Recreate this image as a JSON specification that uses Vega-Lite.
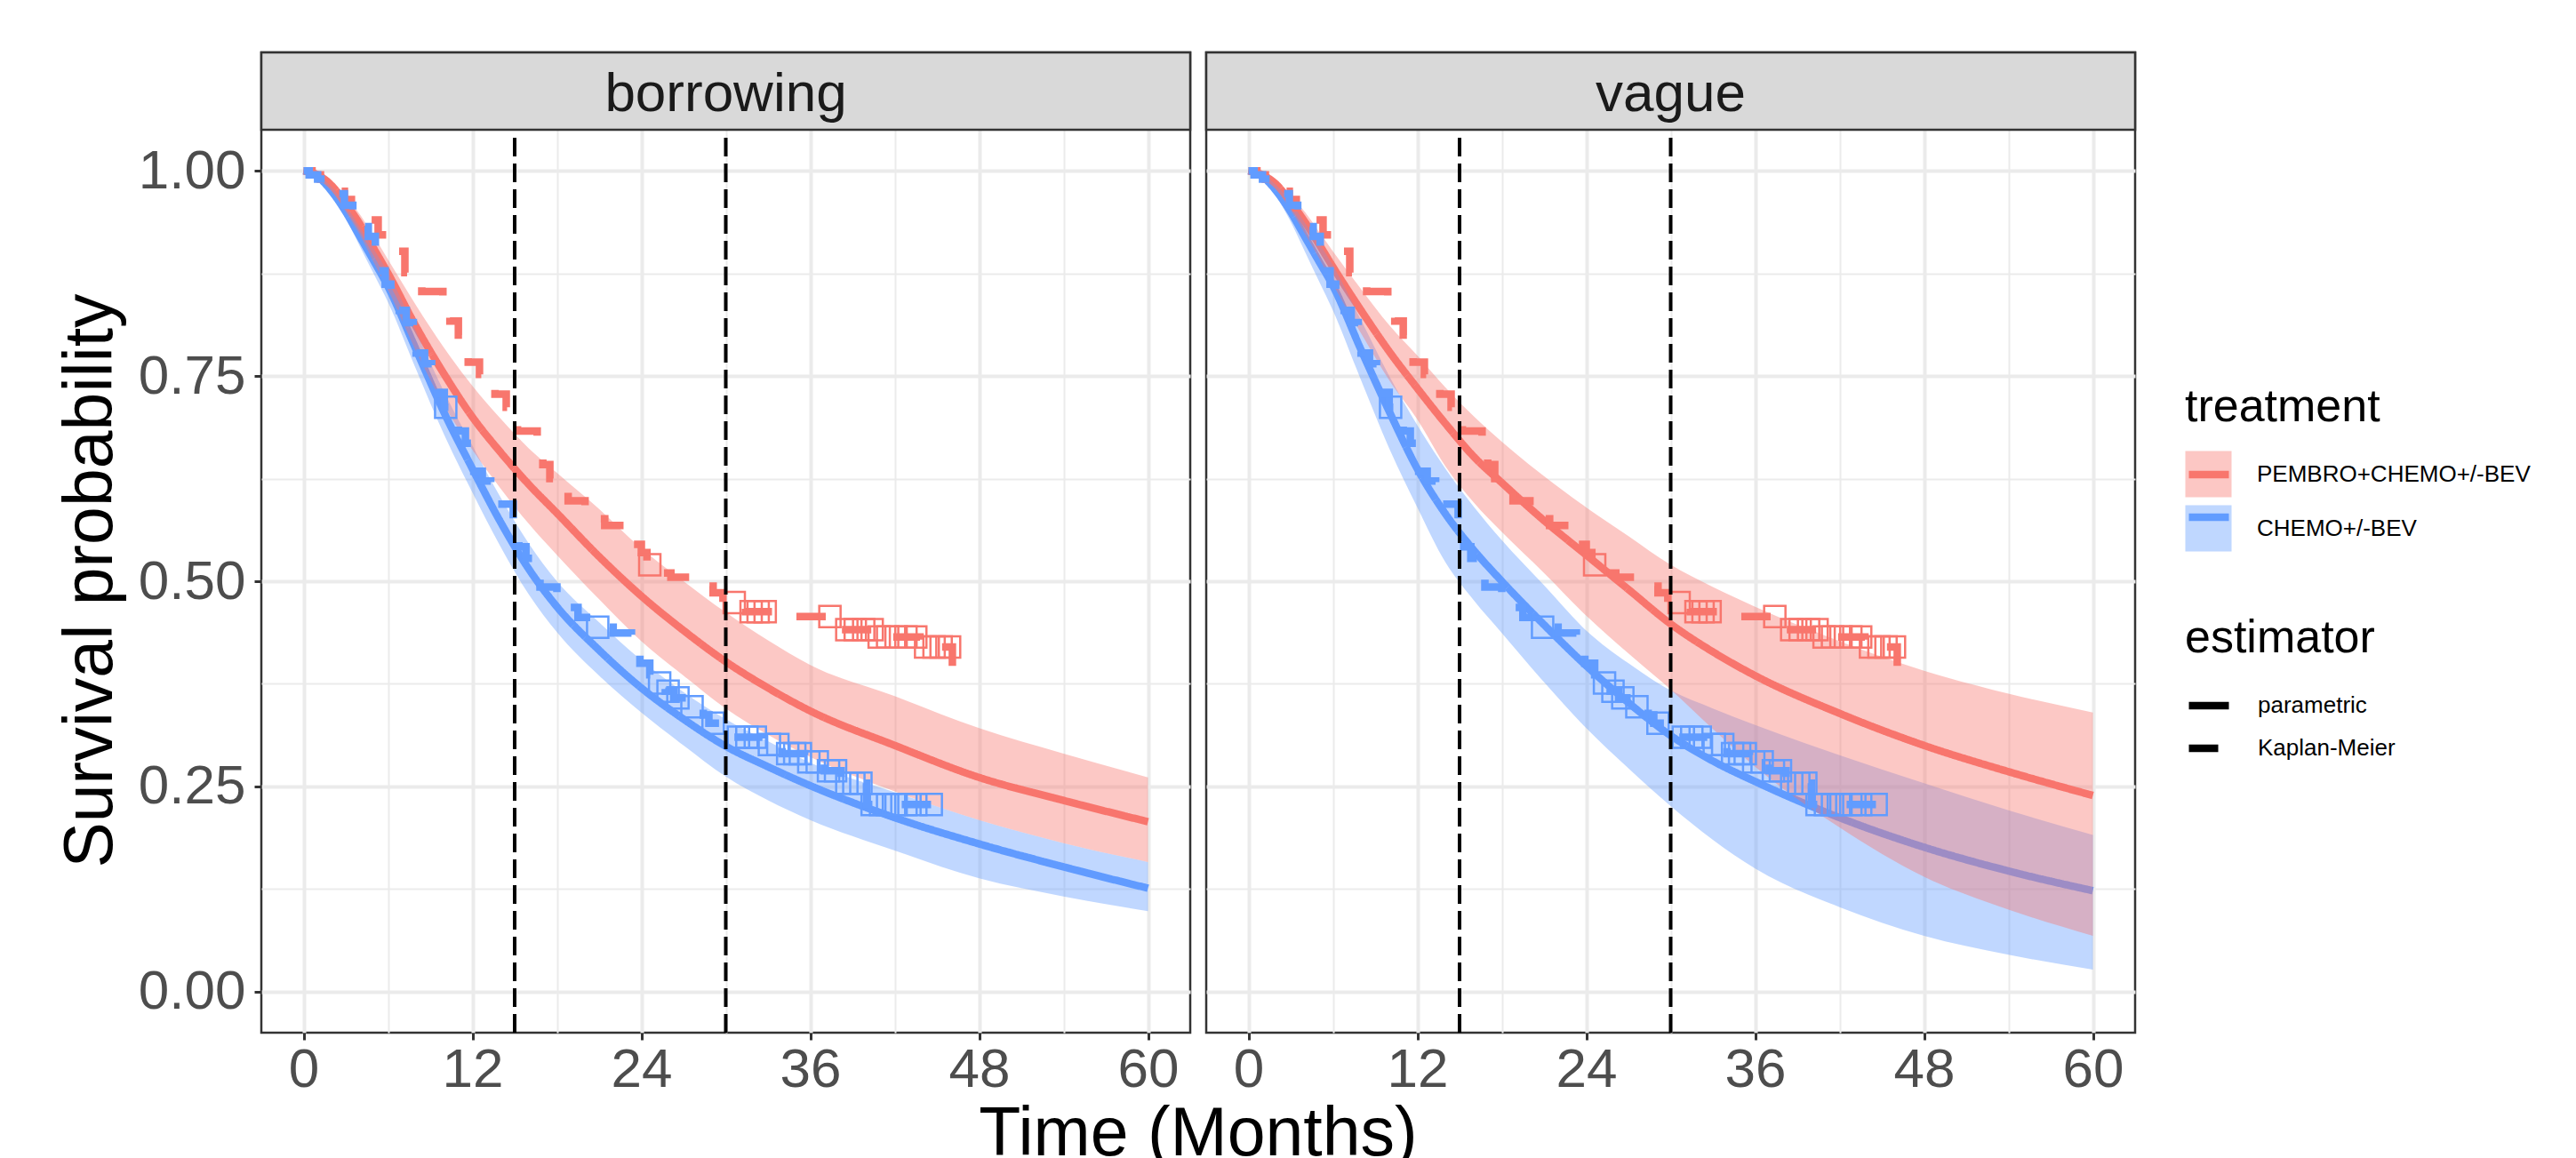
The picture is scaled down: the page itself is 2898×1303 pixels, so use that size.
{
"$schema": "https://vega.github.io/schema/vega-lite/v6.json",
"background": "white",
"padding": {"left": 62, "top": 56, "right": 0, "bottom": 0},
"datasets": {
"band": [
{"panel":"borrowing","treatment":"CHEMO+/-BEV","t":0,"lo":1,"hi":1},
{"panel":"borrowing","treatment":"CHEMO+/-BEV","t":1,"lo":0.991,"hi":0.995},
{"panel":"borrowing","treatment":"CHEMO+/-BEV","t":2,"lo":0.970,"hi":0.980},
{"panel":"borrowing","treatment":"CHEMO+/-BEV","t":3,"lo":0.942,"hi":0.958},
{"panel":"borrowing","treatment":"CHEMO+/-BEV","t":4,"lo":0.908,"hi":0.931},
{"panel":"borrowing","treatment":"CHEMO+/-BEV","t":5,"lo":0.874,"hi":0.904},
{"panel":"borrowing","treatment":"CHEMO+/-BEV","t":6,"lo":0.840,"hi":0.876},
{"panel":"borrowing","treatment":"CHEMO+/-BEV","t":8,"lo":0.758,"hi":0.804},
{"panel":"borrowing","treatment":"CHEMO+/-BEV","t":10,"lo":0.678,"hi":0.730},
{"panel":"borrowing","treatment":"CHEMO+/-BEV","t":12,"lo":0.608,"hi":0.665},
{"panel":"borrowing","treatment":"CHEMO+/-BEV","t":14,"lo":0.542,"hi":0.602},
{"panel":"borrowing","treatment":"CHEMO+/-BEV","t":16,"lo":0.484,"hi":0.546},
{"panel":"borrowing","treatment":"CHEMO+/-BEV","t":18,"lo":0.438,"hi":0.500},
{"panel":"borrowing","treatment":"CHEMO+/-BEV","t":21,"lo":0.385,"hi":0.450},
{"panel":"borrowing","treatment":"CHEMO+/-BEV","t":24,"lo":0.340,"hi":0.404},
{"panel":"borrowing","treatment":"CHEMO+/-BEV","t":27,"lo":0.300,"hi":0.365},
{"panel":"borrowing","treatment":"CHEMO+/-BEV","t":30,"lo":0.262,"hi":0.332},
{"panel":"borrowing","treatment":"CHEMO+/-BEV","t":33,"lo":0.233,"hi":0.305},
{"panel":"borrowing","treatment":"CHEMO+/-BEV","t":36,"lo":0.209,"hi":0.279},
{"panel":"borrowing","treatment":"CHEMO+/-BEV","t":42,"lo":0.172,"hi":0.243},
{"panel":"borrowing","treatment":"CHEMO+/-BEV","t":48,"lo":0.138,"hi":0.209},
{"panel":"borrowing","treatment":"CHEMO+/-BEV","t":54,"lo":0.116,"hi":0.181},
{"panel":"borrowing","treatment":"CHEMO+/-BEV","t":60,"lo":0.098,"hi":0.158},
{"panel":"borrowing","treatment":"PEMBRO+CHEMO+/-BEV","t":0,"lo":1,"hi":1},
{"panel":"borrowing","treatment":"PEMBRO+CHEMO+/-BEV","t":1,"lo":0.993,"hi":0.997},
{"panel":"borrowing","treatment":"PEMBRO+CHEMO+/-BEV","t":2,"lo":0.976,"hi":0.987},
{"panel":"borrowing","treatment":"PEMBRO+CHEMO+/-BEV","t":3,"lo":0.950,"hi":0.968},
{"panel":"borrowing","treatment":"PEMBRO+CHEMO+/-BEV","t":4,"lo":0.922,"hi":0.947},
{"panel":"borrowing","treatment":"PEMBRO+CHEMO+/-BEV","t":5,"lo":0.888,"hi":0.920},
{"panel":"borrowing","treatment":"PEMBRO+CHEMO+/-BEV","t":6,"lo":0.855,"hi":0.892},
{"panel":"borrowing","treatment":"PEMBRO+CHEMO+/-BEV","t":8,"lo":0.780,"hi":0.836},
{"panel":"borrowing","treatment":"PEMBRO+CHEMO+/-BEV","t":10,"lo":0.714,"hi":0.784},
{"panel":"borrowing","treatment":"PEMBRO+CHEMO+/-BEV","t":12,"lo":0.660,"hi":0.738},
{"panel":"borrowing","treatment":"PEMBRO+CHEMO+/-BEV","t":14,"lo":0.613,"hi":0.698},
{"panel":"borrowing","treatment":"PEMBRO+CHEMO+/-BEV","t":16,"lo":0.570,"hi":0.662},
{"panel":"borrowing","treatment":"PEMBRO+CHEMO+/-BEV","t":18,"lo":0.532,"hi":0.632},
{"panel":"borrowing","treatment":"PEMBRO+CHEMO+/-BEV","t":21,"lo":0.478,"hi":0.588},
{"panel":"borrowing","treatment":"PEMBRO+CHEMO+/-BEV","t":24,"lo":0.427,"hi":0.540},
{"panel":"borrowing","treatment":"PEMBRO+CHEMO+/-BEV","t":27,"lo":0.385,"hi":0.500},
{"panel":"borrowing","treatment":"PEMBRO+CHEMO+/-BEV","t":30,"lo":0.345,"hi":0.462},
{"panel":"borrowing","treatment":"PEMBRO+CHEMO+/-BEV","t":33,"lo":0.313,"hi":0.428},
{"panel":"borrowing","treatment":"PEMBRO+CHEMO+/-BEV","t":36,"lo":0.286,"hi":0.398},
{"panel":"borrowing","treatment":"PEMBRO+CHEMO+/-BEV","t":42,"lo":0.244,"hi":0.360},
{"panel":"borrowing","treatment":"PEMBRO+CHEMO+/-BEV","t":48,"lo":0.209,"hi":0.321},
{"panel":"borrowing","treatment":"PEMBRO+CHEMO+/-BEV","t":54,"lo":0.181,"hi":0.290},
{"panel":"borrowing","treatment":"PEMBRO+CHEMO+/-BEV","t":60,"lo":0.158,"hi":0.261},
{"panel":"vague","treatment":"CHEMO+/-BEV","t":0,"lo":1,"hi":1},
{"panel":"vague","treatment":"CHEMO+/-BEV","t":1,"lo":0.990,"hi":0.996},
{"panel":"vague","treatment":"CHEMO+/-BEV","t":2,"lo":0.968,"hi":0.982},
{"panel":"vague","treatment":"CHEMO+/-BEV","t":3,"lo":0.938,"hi":0.962},
{"panel":"vague","treatment":"CHEMO+/-BEV","t":4,"lo":0.902,"hi":0.937},
{"panel":"vague","treatment":"CHEMO+/-BEV","t":5,"lo":0.866,"hi":0.912},
{"panel":"vague","treatment":"CHEMO+/-BEV","t":6,"lo":0.830,"hi":0.885},
{"panel":"vague","treatment":"CHEMO+/-BEV","t":8,"lo":0.745,"hi":0.818},
{"panel":"vague","treatment":"CHEMO+/-BEV","t":10,"lo":0.662,"hi":0.750},
{"panel":"vague","treatment":"CHEMO+/-BEV","t":12,"lo":0.590,"hi":0.690},
{"panel":"vague","treatment":"CHEMO+/-BEV","t":14,"lo":0.523,"hi":0.637},
{"panel":"vague","treatment":"CHEMO+/-BEV","t":16,"lo":0.477,"hi":0.591},
{"panel":"vague","treatment":"CHEMO+/-BEV","t":18,"lo":0.437,"hi":0.550},
{"panel":"vague","treatment":"CHEMO+/-BEV","t":21,"lo":0.377,"hi":0.495},
{"panel":"vague","treatment":"CHEMO+/-BEV","t":24,"lo":0.321,"hi":0.440},
{"panel":"vague","treatment":"CHEMO+/-BEV","t":27,"lo":0.272,"hi":0.400},
{"panel":"vague","treatment":"CHEMO+/-BEV","t":30,"lo":0.226,"hi":0.367},
{"panel":"vague","treatment":"CHEMO+/-BEV","t":33,"lo":0.185,"hi":0.345},
{"panel":"vague","treatment":"CHEMO+/-BEV","t":36,"lo":0.150,"hi":0.325},
{"panel":"vague","treatment":"CHEMO+/-BEV","t":42,"lo":0.103,"hi":0.288},
{"panel":"vague","treatment":"CHEMO+/-BEV","t":48,"lo":0.068,"hi":0.254},
{"panel":"vague","treatment":"CHEMO+/-BEV","t":54,"lo":0.045,"hi":0.221},
{"panel":"vague","treatment":"CHEMO+/-BEV","t":60,"lo":0.027,"hi":0.191},
{"panel":"vague","treatment":"PEMBRO+CHEMO+/-BEV","t":0,"lo":1,"hi":1},
{"panel":"vague","treatment":"PEMBRO+CHEMO+/-BEV","t":1,"lo":0.993,"hi":0.997},
{"panel":"vague","treatment":"PEMBRO+CHEMO+/-BEV","t":2,"lo":0.977,"hi":0.988},
{"panel":"vague","treatment":"PEMBRO+CHEMO+/-BEV","t":3,"lo":0.952,"hi":0.970},
{"panel":"vague","treatment":"PEMBRO+CHEMO+/-BEV","t":4,"lo":0.924,"hi":0.950},
{"panel":"vague","treatment":"PEMBRO+CHEMO+/-BEV","t":5,"lo":0.894,"hi":0.926},
{"panel":"vague","treatment":"PEMBRO+CHEMO+/-BEV","t":6,"lo":0.862,"hi":0.902},
{"panel":"vague","treatment":"PEMBRO+CHEMO+/-BEV","t":8,"lo":0.802,"hi":0.856},
{"panel":"vague","treatment":"PEMBRO+CHEMO+/-BEV","t":10,"lo":0.745,"hi":0.812},
{"panel":"vague","treatment":"PEMBRO+CHEMO+/-BEV","t":12,"lo":0.697,"hi":0.775},
{"panel":"vague","treatment":"PEMBRO+CHEMO+/-BEV","t":14,"lo":0.640,"hi":0.736},
{"panel":"vague","treatment":"PEMBRO+CHEMO+/-BEV","t":16,"lo":0.596,"hi":0.701},
{"panel":"vague","treatment":"PEMBRO+CHEMO+/-BEV","t":18,"lo":0.560,"hi":0.670},
{"panel":"vague","treatment":"PEMBRO+CHEMO+/-BEV","t":21,"lo":0.510,"hi":0.628},
{"panel":"vague","treatment":"PEMBRO+CHEMO+/-BEV","t":24,"lo":0.458,"hi":0.590},
{"panel":"vague","treatment":"PEMBRO+CHEMO+/-BEV","t":27,"lo":0.412,"hi":0.555},
{"panel":"vague","treatment":"PEMBRO+CHEMO+/-BEV","t":30,"lo":0.368,"hi":0.520},
{"panel":"vague","treatment":"PEMBRO+CHEMO+/-BEV","t":33,"lo":0.320,"hi":0.493},
{"panel":"vague","treatment":"PEMBRO+CHEMO+/-BEV","t":36,"lo":0.274,"hi":0.469},
{"panel":"vague","treatment":"PEMBRO+CHEMO+/-BEV","t":42,"lo":0.200,"hi":0.427},
{"panel":"vague","treatment":"PEMBRO+CHEMO+/-BEV","t":48,"lo":0.140,"hi":0.391},
{"panel":"vague","treatment":"PEMBRO+CHEMO+/-BEV","t":54,"lo":0.100,"hi":0.363},
{"panel":"vague","treatment":"PEMBRO+CHEMO+/-BEV","t":60,"lo":0.068,"hi":0.340}
],
"curve": [
{"panel":"borrowing","treatment":"CHEMO+/-BEV","t":0,"est":1},
{"panel":"borrowing","treatment":"CHEMO+/-BEV","t":1,"est":0.993},
{"panel":"borrowing","treatment":"CHEMO+/-BEV","t":2,"est":0.975},
{"panel":"borrowing","treatment":"CHEMO+/-BEV","t":3,"est":0.950},
{"panel":"borrowing","treatment":"CHEMO+/-BEV","t":4,"est":0.920},
{"panel":"borrowing","treatment":"CHEMO+/-BEV","t":5,"est":0.890},
{"panel":"borrowing","treatment":"CHEMO+/-BEV","t":6,"est":0.859},
{"panel":"borrowing","treatment":"CHEMO+/-BEV","t":8,"est":0.782},
{"panel":"borrowing","treatment":"CHEMO+/-BEV","t":10,"est":0.705},
{"panel":"borrowing","treatment":"CHEMO+/-BEV","t":12,"est":0.637},
{"panel":"borrowing","treatment":"CHEMO+/-BEV","t":14,"est":0.572},
{"panel":"borrowing","treatment":"CHEMO+/-BEV","t":16,"est":0.515},
{"panel":"borrowing","treatment":"CHEMO+/-BEV","t":18,"est":0.469},
{"panel":"borrowing","treatment":"CHEMO+/-BEV","t":21,"est":0.416},
{"panel":"borrowing","treatment":"CHEMO+/-BEV","t":24,"est":0.370},
{"panel":"borrowing","treatment":"CHEMO+/-BEV","t":27,"est":0.332},
{"panel":"borrowing","treatment":"CHEMO+/-BEV","t":30,"est":0.299},
{"panel":"borrowing","treatment":"CHEMO+/-BEV","t":33,"est":0.274},
{"panel":"borrowing","treatment":"CHEMO+/-BEV","t":36,"est":0.251},
{"panel":"borrowing","treatment":"CHEMO+/-BEV","t":42,"est":0.212},
{"panel":"borrowing","treatment":"CHEMO+/-BEV","t":48,"est":0.180},
{"panel":"borrowing","treatment":"CHEMO+/-BEV","t":54,"est":0.152},
{"panel":"borrowing","treatment":"CHEMO+/-BEV","t":60,"est":0.126},
{"panel":"borrowing","treatment":"PEMBRO+CHEMO+/-BEV","t":0,"est":1},
{"panel":"borrowing","treatment":"PEMBRO+CHEMO+/-BEV","t":1,"est":0.995},
{"panel":"borrowing","treatment":"PEMBRO+CHEMO+/-BEV","t":2,"est":0.982},
{"panel":"borrowing","treatment":"PEMBRO+CHEMO+/-BEV","t":3,"est":0.960},
{"panel":"borrowing","treatment":"PEMBRO+CHEMO+/-BEV","t":4,"est":0.935},
{"panel":"borrowing","treatment":"PEMBRO+CHEMO+/-BEV","t":5,"est":0.905},
{"panel":"borrowing","treatment":"PEMBRO+CHEMO+/-BEV","t":6,"est":0.875},
{"panel":"borrowing","treatment":"PEMBRO+CHEMO+/-BEV","t":8,"est":0.810},
{"panel":"borrowing","treatment":"PEMBRO+CHEMO+/-BEV","t":10,"est":0.752},
{"panel":"borrowing","treatment":"PEMBRO+CHEMO+/-BEV","t":12,"est":0.700},
{"panel":"borrowing","treatment":"PEMBRO+CHEMO+/-BEV","t":14,"est":0.657},
{"panel":"borrowing","treatment":"PEMBRO+CHEMO+/-BEV","t":16,"est":0.618},
{"panel":"borrowing","treatment":"PEMBRO+CHEMO+/-BEV","t":18,"est":0.583},
{"panel":"borrowing","treatment":"PEMBRO+CHEMO+/-BEV","t":21,"est":0.530},
{"panel":"borrowing","treatment":"PEMBRO+CHEMO+/-BEV","t":24,"est":0.482},
{"panel":"borrowing","treatment":"PEMBRO+CHEMO+/-BEV","t":27,"est":0.440},
{"panel":"borrowing","treatment":"PEMBRO+CHEMO+/-BEV","t":30,"est":0.402},
{"panel":"borrowing","treatment":"PEMBRO+CHEMO+/-BEV","t":33,"est":0.370},
{"panel":"borrowing","treatment":"PEMBRO+CHEMO+/-BEV","t":36,"est":0.342},
{"panel":"borrowing","treatment":"PEMBRO+CHEMO+/-BEV","t":42,"est":0.300},
{"panel":"borrowing","treatment":"PEMBRO+CHEMO+/-BEV","t":48,"est":0.261},
{"panel":"borrowing","treatment":"PEMBRO+CHEMO+/-BEV","t":54,"est":0.233},
{"panel":"borrowing","treatment":"PEMBRO+CHEMO+/-BEV","t":60,"est":0.207},
{"panel":"vague","treatment":"CHEMO+/-BEV","t":0,"est":1},
{"panel":"vague","treatment":"CHEMO+/-BEV","t":1,"est":0.993},
{"panel":"vague","treatment":"CHEMO+/-BEV","t":2,"est":0.975},
{"panel":"vague","treatment":"CHEMO+/-BEV","t":3,"est":0.950},
{"panel":"vague","treatment":"CHEMO+/-BEV","t":4,"est":0.920},
{"panel":"vague","treatment":"CHEMO+/-BEV","t":5,"est":0.890},
{"panel":"vague","treatment":"CHEMO+/-BEV","t":6,"est":0.860},
{"panel":"vague","treatment":"CHEMO+/-BEV","t":8,"est":0.782},
{"panel":"vague","treatment":"CHEMO+/-BEV","t":10,"est":0.707},
{"panel":"vague","treatment":"CHEMO+/-BEV","t":12,"est":0.637},
{"panel":"vague","treatment":"CHEMO+/-BEV","t":14,"est":0.582},
{"panel":"vague","treatment":"CHEMO+/-BEV","t":16,"est":0.538},
{"panel":"vague","treatment":"CHEMO+/-BEV","t":18,"est":0.500},
{"panel":"vague","treatment":"CHEMO+/-BEV","t":21,"est":0.447},
{"panel":"vague","treatment":"CHEMO+/-BEV","t":24,"est":0.397},
{"panel":"vague","treatment":"CHEMO+/-BEV","t":27,"est":0.352},
{"panel":"vague","treatment":"CHEMO+/-BEV","t":30,"est":0.312},
{"panel":"vague","treatment":"CHEMO+/-BEV","t":33,"est":0.281},
{"panel":"vague","treatment":"CHEMO+/-BEV","t":36,"est":0.256},
{"panel":"vague","treatment":"CHEMO+/-BEV","t":42,"est":0.212},
{"panel":"vague","treatment":"CHEMO+/-BEV","t":48,"est":0.176},
{"panel":"vague","treatment":"CHEMO+/-BEV","t":54,"est":0.147},
{"panel":"vague","treatment":"CHEMO+/-BEV","t":60,"est":0.123},
{"panel":"vague","treatment":"PEMBRO+CHEMO+/-BEV","t":0,"est":1},
{"panel":"vague","treatment":"PEMBRO+CHEMO+/-BEV","t":1,"est":0.995},
{"panel":"vague","treatment":"PEMBRO+CHEMO+/-BEV","t":2,"est":0.983},
{"panel":"vague","treatment":"PEMBRO+CHEMO+/-BEV","t":3,"est":0.962},
{"panel":"vague","treatment":"PEMBRO+CHEMO+/-BEV","t":4,"est":0.938},
{"panel":"vague","treatment":"PEMBRO+CHEMO+/-BEV","t":5,"est":0.911},
{"panel":"vague","treatment":"PEMBRO+CHEMO+/-BEV","t":6,"est":0.883},
{"panel":"vague","treatment":"PEMBRO+CHEMO+/-BEV","t":8,"est":0.830},
{"panel":"vague","treatment":"PEMBRO+CHEMO+/-BEV","t":10,"est":0.780},
{"panel":"vague","treatment":"PEMBRO+CHEMO+/-BEV","t":12,"est":0.735},
{"panel":"vague","treatment":"PEMBRO+CHEMO+/-BEV","t":14,"est":0.692},
{"panel":"vague","treatment":"PEMBRO+CHEMO+/-BEV","t":16,"est":0.652},
{"panel":"vague","treatment":"PEMBRO+CHEMO+/-BEV","t":18,"est":0.620},
{"panel":"vague","treatment":"PEMBRO+CHEMO+/-BEV","t":21,"est":0.574},
{"panel":"vague","treatment":"PEMBRO+CHEMO+/-BEV","t":24,"est":0.532},
{"panel":"vague","treatment":"PEMBRO+CHEMO+/-BEV","t":27,"est":0.490},
{"panel":"vague","treatment":"PEMBRO+CHEMO+/-BEV","t":30,"est":0.448},
{"panel":"vague","treatment":"PEMBRO+CHEMO+/-BEV","t":33,"est":0.414},
{"panel":"vague","treatment":"PEMBRO+CHEMO+/-BEV","t":36,"est":0.385},
{"panel":"vague","treatment":"PEMBRO+CHEMO+/-BEV","t":42,"est":0.339},
{"panel":"vague","treatment":"PEMBRO+CHEMO+/-BEV","t":48,"est":0.300},
{"panel":"vague","treatment":"PEMBRO+CHEMO+/-BEV","t":54,"est":0.268},
{"panel":"vague","treatment":"PEMBRO+CHEMO+/-BEV","t":60,"est":0.239}
],
"km": [
{"treatment":"PEMBRO+CHEMO+/-BEV","t":0,"S":1},
{"treatment":"PEMBRO+CHEMO+/-BEV","t":0.6,"S":0.995},
{"treatment":"PEMBRO+CHEMO+/-BEV","t":1.2,"S":0.99},
{"treatment":"PEMBRO+CHEMO+/-BEV","t":1.8,"S":0.985},
{"treatment":"PEMBRO+CHEMO+/-BEV","t":2.4,"S":0.975},
{"treatment":"PEMBRO+CHEMO+/-BEV","t":2.9,"S":0.965},
{"treatment":"PEMBRO+CHEMO+/-BEV","t":3.4,"S":0.955},
{"treatment":"PEMBRO+CHEMO+/-BEV","t":4.0,"S":0.948},
{"treatment":"PEMBRO+CHEMO+/-BEV","t":4.6,"S":0.94},
{"treatment":"PEMBRO+CHEMO+/-BEV","t":5.3,"S":0.922},
{"treatment":"PEMBRO+CHEMO+/-BEV","t":5.9,"S":0.912},
{"treatment":"PEMBRO+CHEMO+/-BEV","t":6.5,"S":0.902},
{"treatment":"PEMBRO+CHEMO+/-BEV","t":7.2,"S":0.876},
{"treatment":"PEMBRO+CHEMO+/-BEV","t":7.8,"S":0.862},
{"treatment":"PEMBRO+CHEMO+/-BEV","t":8.4,"S":0.853},
{"treatment":"PEMBRO+CHEMO+/-BEV","t":9.9,"S":0.84},
{"treatment":"PEMBRO+CHEMO+/-BEV","t":10.4,"S":0.817},
{"treatment":"PEMBRO+CHEMO+/-BEV","t":11.0,"S":0.80},
{"treatment":"PEMBRO+CHEMO+/-BEV","t":11.7,"S":0.767},
{"treatment":"PEMBRO+CHEMO+/-BEV","t":12.5,"S":0.752},
{"treatment":"PEMBRO+CHEMO+/-BEV","t":13.1,"S":0.74},
{"treatment":"PEMBRO+CHEMO+/-BEV","t":13.6,"S":0.728},
{"treatment":"PEMBRO+CHEMO+/-BEV","t":14.4,"S":0.712},
{"treatment":"PEMBRO+CHEMO+/-BEV","t":14.9,"S":0.698},
{"treatment":"PEMBRO+CHEMO+/-BEV","t":15.2,"S":0.683},
{"treatment":"PEMBRO+CHEMO+/-BEV","t":16.6,"S":0.668},
{"treatment":"PEMBRO+CHEMO+/-BEV","t":17.0,"S":0.642},
{"treatment":"PEMBRO+CHEMO+/-BEV","t":17.5,"S":0.625},
{"treatment":"PEMBRO+CHEMO+/-BEV","t":18.1,"S":0.61},
{"treatment":"PEMBRO+CHEMO+/-BEV","t":18.8,"S":0.598},
{"treatment":"PEMBRO+CHEMO+/-BEV","t":20.0,"S":0.585},
{"treatment":"PEMBRO+CHEMO+/-BEV","t":20.8,"S":0.576},
{"treatment":"PEMBRO+CHEMO+/-BEV","t":21.4,"S":0.568},
{"treatment":"PEMBRO+CHEMO+/-BEV","t":22.8,"S":0.558},
{"treatment":"PEMBRO+CHEMO+/-BEV","t":23.4,"S":0.545},
{"treatment":"PEMBRO+CHEMO+/-BEV","t":24.0,"S":0.535},
{"treatment":"PEMBRO+CHEMO+/-BEV","t":24.4,"S":0.52},
{"treatment":"PEMBRO+CHEMO+/-BEV","t":25.2,"S":0.51},
{"treatment":"PEMBRO+CHEMO+/-BEV","t":26.1,"S":0.505},
{"treatment":"PEMBRO+CHEMO+/-BEV","t":27.5,"S":0.50},
{"treatment":"PEMBRO+CHEMO+/-BEV","t":28.4,"S":0.494},
{"treatment":"PEMBRO+CHEMO+/-BEV","t":29.1,"S":0.486},
{"treatment":"PEMBRO+CHEMO+/-BEV","t":29.8,"S":0.474},
{"treatment":"PEMBRO+CHEMO+/-BEV","t":31.4,"S":0.463},
{"treatment":"PEMBRO+CHEMO+/-BEV","t":34.5,"S":0.457},
{"treatment":"PEMBRO+CHEMO+/-BEV","t":38.2,"S":0.441},
{"treatment":"PEMBRO+CHEMO+/-BEV","t":40.6,"S":0.432},
{"treatment":"PEMBRO+CHEMO+/-BEV","t":43.8,"S":0.42},
{"treatment":"PEMBRO+CHEMO+/-BEV","t":46.1,"S":0.384},
{"treatment":"CHEMO+/-BEV","t":0,"S":1},
{"treatment":"CHEMO+/-BEV","t":0.4,"S":0.995},
{"treatment":"CHEMO+/-BEV","t":1.0,"S":0.99},
{"treatment":"CHEMO+/-BEV","t":1.8,"S":0.983},
{"treatment":"CHEMO+/-BEV","t":2.4,"S":0.972},
{"treatment":"CHEMO+/-BEV","t":2.9,"S":0.958},
{"treatment":"CHEMO+/-BEV","t":3.5,"S":0.948},
{"treatment":"CHEMO+/-BEV","t":4.1,"S":0.932},
{"treatment":"CHEMO+/-BEV","t":4.6,"S":0.92},
{"treatment":"CHEMO+/-BEV","t":5.1,"S":0.905},
{"treatment":"CHEMO+/-BEV","t":5.3,"S":0.878},
{"treatment":"CHEMO+/-BEV","t":5.8,"S":0.862},
{"treatment":"CHEMO+/-BEV","t":6.2,"S":0.85},
{"treatment":"CHEMO+/-BEV","t":6.8,"S":0.83},
{"treatment":"CHEMO+/-BEV","t":7.3,"S":0.815},
{"treatment":"CHEMO+/-BEV","t":7.8,"S":0.80},
{"treatment":"CHEMO+/-BEV","t":8.0,"S":0.778},
{"treatment":"CHEMO+/-BEV","t":8.6,"S":0.765},
{"treatment":"CHEMO+/-BEV","t":9.1,"S":0.752},
{"treatment":"CHEMO+/-BEV","t":9.5,"S":0.73},
{"treatment":"CHEMO+/-BEV","t":10.0,"S":0.712},
{"treatment":"CHEMO+/-BEV","t":10.6,"S":0.698},
{"treatment":"CHEMO+/-BEV","t":11.0,"S":0.683},
{"treatment":"CHEMO+/-BEV","t":11.5,"S":0.668},
{"treatment":"CHEMO+/-BEV","t":11.9,"S":0.655},
{"treatment":"CHEMO+/-BEV","t":12.1,"S":0.634},
{"treatment":"CHEMO+/-BEV","t":12.7,"S":0.622},
{"treatment":"CHEMO+/-BEV","t":13.3,"S":0.61},
{"treatment":"CHEMO+/-BEV","t":13.8,"S":0.60},
{"treatment":"CHEMO+/-BEV","t":14.1,"S":0.594},
{"treatment":"CHEMO+/-BEV","t":14.9,"S":0.565},
{"treatment":"CHEMO+/-BEV","t":15.3,"S":0.542},
{"treatment":"CHEMO+/-BEV","t":15.8,"S":0.528},
{"treatment":"CHEMO+/-BEV","t":16.3,"S":0.514},
{"treatment":"CHEMO+/-BEV","t":16.8,"S":0.493},
{"treatment":"CHEMO+/-BEV","t":18.0,"S":0.48},
{"treatment":"CHEMO+/-BEV","t":18.8,"S":0.468},
{"treatment":"CHEMO+/-BEV","t":19.5,"S":0.456},
{"treatment":"CHEMO+/-BEV","t":20.1,"S":0.444},
{"treatment":"CHEMO+/-BEV","t":22.0,"S":0.437},
{"treatment":"CHEMO+/-BEV","t":23.3,"S":0.42},
{"treatment":"CHEMO+/-BEV","t":23.9,"S":0.40},
{"treatment":"CHEMO+/-BEV","t":24.6,"S":0.386},
{"treatment":"CHEMO+/-BEV","t":25.1,"S":0.376},
{"treatment":"CHEMO+/-BEV","t":25.7,"S":0.366},
{"treatment":"CHEMO+/-BEV","t":26.3,"S":0.358},
{"treatment":"CHEMO+/-BEV","t":27.2,"S":0.347},
{"treatment":"CHEMO+/-BEV","t":28.4,"S":0.337},
{"treatment":"CHEMO+/-BEV","t":28.8,"S":0.327},
{"treatment":"CHEMO+/-BEV","t":30.4,"S":0.31},
{"treatment":"CHEMO+/-BEV","t":32.6,"S":0.301},
{"treatment":"CHEMO+/-BEV","t":34.0,"S":0.29},
{"treatment":"CHEMO+/-BEV","t":35.6,"S":0.28},
{"treatment":"CHEMO+/-BEV","t":37.0,"S":0.269},
{"treatment":"CHEMO+/-BEV","t":38.2,"S":0.254},
{"treatment":"CHEMO+/-BEV","t":40.0,"S":0.228},
{"treatment":"CHEMO+/-BEV","t":45.3,"S":0.228}
],
"cens": [
{"treatment":"PEMBRO+CHEMO+/-BEV","t":24.6,"S":0.52},
{"treatment":"PEMBRO+CHEMO+/-BEV","t":30.6,"S":0.474},
{"treatment":"PEMBRO+CHEMO+/-BEV","t":31.8,"S":0.463},
{"treatment":"PEMBRO+CHEMO+/-BEV","t":32.3,"S":0.463},
{"treatment":"PEMBRO+CHEMO+/-BEV","t":32.8,"S":0.463},
{"treatment":"PEMBRO+CHEMO+/-BEV","t":37.4,"S":0.457},
{"treatment":"PEMBRO+CHEMO+/-BEV","t":38.6,"S":0.441},
{"treatment":"PEMBRO+CHEMO+/-BEV","t":39.2,"S":0.441},
{"treatment":"PEMBRO+CHEMO+/-BEV","t":39.8,"S":0.441},
{"treatment":"PEMBRO+CHEMO+/-BEV","t":40.4,"S":0.441},
{"treatment":"PEMBRO+CHEMO+/-BEV","t":40.9,"S":0.432},
{"treatment":"PEMBRO+CHEMO+/-BEV","t":41.5,"S":0.432},
{"treatment":"PEMBRO+CHEMO+/-BEV","t":42.1,"S":0.432},
{"treatment":"PEMBRO+CHEMO+/-BEV","t":42.8,"S":0.432},
{"treatment":"PEMBRO+CHEMO+/-BEV","t":43.5,"S":0.432},
{"treatment":"PEMBRO+CHEMO+/-BEV","t":44.2,"S":0.42},
{"treatment":"PEMBRO+CHEMO+/-BEV","t":44.8,"S":0.42},
{"treatment":"PEMBRO+CHEMO+/-BEV","t":45.3,"S":0.42},
{"treatment":"PEMBRO+CHEMO+/-BEV","t":45.9,"S":0.42},
{"treatment":"CHEMO+/-BEV","t":10.1,"S":0.712},
{"treatment":"CHEMO+/-BEV","t":20.9,"S":0.444},
{"treatment":"CHEMO+/-BEV","t":25.3,"S":0.376},
{"treatment":"CHEMO+/-BEV","t":25.9,"S":0.366},
{"treatment":"CHEMO+/-BEV","t":26.6,"S":0.358},
{"treatment":"CHEMO+/-BEV","t":27.6,"S":0.347},
{"treatment":"CHEMO+/-BEV","t":29.1,"S":0.327},
{"treatment":"CHEMO+/-BEV","t":30.9,"S":0.31},
{"treatment":"CHEMO+/-BEV","t":31.5,"S":0.31},
{"treatment":"CHEMO+/-BEV","t":32.1,"S":0.31},
{"treatment":"CHEMO+/-BEV","t":33.1,"S":0.301},
{"treatment":"CHEMO+/-BEV","t":33.7,"S":0.301},
{"treatment":"CHEMO+/-BEV","t":34.4,"S":0.29},
{"treatment":"CHEMO+/-BEV","t":34.9,"S":0.29},
{"treatment":"CHEMO+/-BEV","t":35.3,"S":0.29},
{"treatment":"CHEMO+/-BEV","t":35.9,"S":0.28},
{"treatment":"CHEMO+/-BEV","t":36.5,"S":0.28},
{"treatment":"CHEMO+/-BEV","t":37.3,"S":0.269},
{"treatment":"CHEMO+/-BEV","t":37.8,"S":0.269},
{"treatment":"CHEMO+/-BEV","t":38.6,"S":0.254},
{"treatment":"CHEMO+/-BEV","t":39.1,"S":0.254},
{"treatment":"CHEMO+/-BEV","t":39.6,"S":0.254},
{"treatment":"CHEMO+/-BEV","t":40.4,"S":0.228},
{"treatment":"CHEMO+/-BEV","t":41.0,"S":0.228},
{"treatment":"CHEMO+/-BEV","t":41.5,"S":0.228},
{"treatment":"CHEMO+/-BEV","t":42.1,"S":0.228},
{"treatment":"CHEMO+/-BEV","t":42.8,"S":0.228},
{"treatment":"CHEMO+/-BEV","t":43.5,"S":0.228},
{"treatment":"CHEMO+/-BEV","t":44.6,"S":0.228}
],
"vlines": [{"t":15},{"t":30}]
},
"hconcat": [
 {"width": 1045, "height": 1103,
  "view": {"stroke": "#333333", "strokeWidth": 2.5},
  "layer": [
   {"data": {"name": "curve"}, "transform": [{"filter": "datum.panel == 'borrowing'"}],
    "mark": {"type": "line", "strokeWidth": 8.5, "interpolate": "monotone"},
    "encoding": {
     "x": {"field": "t", "type": "quantitative", "scale": {"domain": [-3, 63], "nice": false, "zero": false},
       "axis": {"values": [0,6,12,18,24,30,36,42,48,54,60], "labelExpr": "datum.value % 12 == 0 ? datum.label : ''",
        "tickOpacity": {"condition": {"test": "datum.value % 12 == 0", "value": 1}, "value": 0},
        "gridWidth": {"condition": {"test": "datum.value % 12 == 0", "value": 4}, "value": 2},
        "labelPadding": 3, "labelOverlap": false,
        "title": "Time (Months)", "titleX": 1053.5, "titleY": 137, "titleBaseline": "alphabetic", "titleAlign": "center"}},
     "y": {"field": "est", "type": "quantitative", "scale": {"domain": [-0.05, 1.1442], "nice": false, "zero": false},
       "axis": {"values": [0,0.125,0.25,0.375,0.5,0.625,0.75,0.875,1], "labelExpr": "round(datum.value*8) % 2 == 0 ? format(datum.value, '.2f') : ''",
        "tickOpacity": {"condition": {"test": "round(datum.value*8) % 2 == 0", "value": 1}, "value": 0},
        "gridWidth": {"condition": {"test": "round(datum.value*8) % 2 == 0", "value": 4}, "value": 2},
        "labelPadding": 10, "labelOverlap": false,
        "title": "Survival probability", "titlePadding": 14, "titleY": 594}},
     "stroke": {"field": "treatment", "type": "nominal", "scale": {"domain": ["PEMBRO+CHEMO+/-BEV", "CHEMO+/-BEV"], "range": ["#F8766D", "#619CFF"]},
       "legend": {"title": null, "orient": "none", "legendX": 2164, "legendY": 448, "symbolType": "stroke", "symbolSize": 2025, "symbolStrokeWidth": 8.5, "symbolOpacity": 1, "labelExpr": "''", "zindex": 3}},
     "strokeDash": {"datum": "parametric", "scale": {"domain": ["parametric", "Kaplan-Meier"], "range": [[1, 0], [33, 33]]},
       "legend": {"title": "estimator", "orient": "none", "legendX": 2164, "legendY": 634, "symbolType": "stroke", "symbolSize": 2025, "symbolStrokeWidth": 8.5, "symbolStrokeColor": "black", "symbolOpacity": 1}}
    }},
   {"data": {"name": "band"}, "transform": [{"filter": "datum.panel == 'borrowing'"}],
    "mark": {"type": "area", "opacity": 0.4, "interpolate": "monotone"},
    "encoding": {
     "x": {"field": "t", "type": "quantitative"},
     "y": {"field": "lo", "type": "quantitative", "stack": null},
     "y2": {"field": "hi"},
     "fill": {"field": "treatment", "type": "nominal", "sort": "descending", "scale": {"range": ["#F8766D", "#619CFF"]},
       "legend": {"title": "treatment", "orient": "none", "legendX": 2164, "legendY": 374, "symbolType": "square", "symbolSize": 2704, "symbolOpacity": 0.4, "symbolStrokeWidth": 1, "symbolStrokeColor": "transparent", "zindex": 1}}
    }},
   {"data": {"name": "km"},
    "mark": {"type": "line", "strokeWidth": 8.5, "interpolate": "step-after", "strokeCap": "butt"},
    "encoding": {
     "x": {"field": "t", "type": "quantitative"},
     "y": {"field": "S", "type": "quantitative"},
     "stroke": {"field": "treatment", "type": "nominal"},
     "strokeDash": {"datum": "Kaplan-Meier"}
    }},
   {"data": {"name": "cens"},
    "mark": {"type": "point", "shape": "square", "filled": false, "size": 576, "strokeWidth": 2.5, "opacity": 1},
    "encoding": {
     "x": {"field": "t", "type": "quantitative"},
     "y": {"field": "S", "type": "quantitative"},
     "stroke": {"field": "treatment", "type": "nominal"}
    }},
   {"data": {"name": "vlines"},
    "mark": {"type": "rule", "color": "black", "strokeWidth": 4, "strokeDash": [21, 8]},
    "encoding": {
     "x": {"field": "t", "type": "quantitative"},
     "y": {"datum": -0.05, "type": "quantitative"},
     "y2": {"datum": 1.05}
    }},
   {"data": {"values": [{"panel": "borrowing"}]},
    "mark": {"type": "rect", "fill": "#D9D9D9", "stroke": "#333333", "strokeWidth": 2.5},
    "encoding": {
     "x": {"datum": -3, "type": "quantitative"}, "x2": {"datum": 63},
     "y": {"datum": 1.05, "type": "quantitative"}, "y2": {"datum": 1.1442}
    }},
   {"data": {"values": [{"panel": "borrowing"}]},
    "mark": {"type": "text", "fontSize": 62, "color": "#1A1A1A", "baseline": "alphabetic", "dy": 22.5},
    "encoding": {
     "x": {"datum": 30, "type": "quantitative"},
     "y": {"datum": 1.0971, "type": "quantitative"},
     "text": {"field": "panel"}
    }}
  ]},
 {"width": 1045, "height": 1103,
  "view": {"stroke": "#333333", "strokeWidth": 2.5},
  "layer": [
   {"data": {"name": "curve"}, "transform": [{"filter": "datum.panel == 'vague'"}],
    "mark": {"type": "line", "strokeWidth": 8.5, "interpolate": "monotone"},
    "encoding": {
     "x": {"field": "t", "type": "quantitative", "scale": {"domain": [-3, 63], "nice": false, "zero": false},
       "axis": {"values": [0,6,12,18,24,30,36,42,48,54,60], "labelExpr": "datum.value % 12 == 0 ? datum.label : ''",
        "tickOpacity": {"condition": {"test": "datum.value % 12 == 0", "value": 1}, "value": 0},
        "gridWidth": {"condition": {"test": "datum.value % 12 == 0", "value": 4}, "value": 2},
        "labelPadding": 3, "labelOverlap": false, "title": null}},
     "y": {"field": "est", "type": "quantitative", "scale": {"domain": [-0.05, 1.1442], "nice": false, "zero": false},
       "axis": {"values": [0,0.125,0.25,0.375,0.5,0.625,0.75,0.875,1], "labels": false, "ticks": false, "minExtent": 0,
        "gridWidth": {"condition": {"test": "round(datum.value*8) % 2 == 0", "value": 4}, "value": 2},
        "title": null}},
     "stroke": {"field": "treatment", "type": "nominal", "scale": {"domain": ["PEMBRO+CHEMO+/-BEV", "CHEMO+/-BEV"], "range": ["#F8766D", "#619CFF"]}},
     "strokeDash": {"datum": "parametric"}
    }},
   {"data": {"name": "band"}, "transform": [{"filter": "datum.panel == 'vague'"}],
    "mark": {"type": "area", "opacity": 0.4, "interpolate": "monotone"},
    "encoding": {
     "x": {"field": "t", "type": "quantitative"},
     "y": {"field": "lo", "type": "quantitative", "stack": null},
     "y2": {"field": "hi"},
     "fill": {"field": "treatment", "type": "nominal", "sort": "descending"}
    }},
   {"data": {"name": "km"},
    "mark": {"type": "line", "strokeWidth": 8.5, "interpolate": "step-after", "strokeCap": "butt"},
    "encoding": {
     "x": {"field": "t", "type": "quantitative"},
     "y": {"field": "S", "type": "quantitative"},
     "stroke": {"field": "treatment", "type": "nominal"},
     "strokeDash": {"datum": "Kaplan-Meier"}
    }},
   {"data": {"name": "cens"},
    "mark": {"type": "point", "shape": "square", "filled": false, "size": 576, "strokeWidth": 2.5, "opacity": 1},
    "encoding": {
     "x": {"field": "t", "type": "quantitative"},
     "y": {"field": "S", "type": "quantitative"},
     "stroke": {"field": "treatment", "type": "nominal"}
    }},
   {"data": {"name": "vlines"},
    "mark": {"type": "rule", "color": "black", "strokeWidth": 4, "strokeDash": [21, 8]},
    "encoding": {
     "x": {"field": "t", "type": "quantitative"},
     "y": {"datum": -0.05, "type": "quantitative"},
     "y2": {"datum": 1.05}
    }},
   {"data": {"values": [{"panel": "vague"}]},
    "mark": {"type": "rect", "fill": "#D9D9D9", "stroke": "#333333", "strokeWidth": 2.5},
    "encoding": {
     "x": {"datum": -3, "type": "quantitative"}, "x2": {"datum": 63},
     "y": {"datum": 1.05, "type": "quantitative"}, "y2": {"datum": 1.1442}
    }},
   {"data": {"values": [{"panel": "vague"}]},
    "mark": {"type": "text", "fontSize": 62, "color": "#1A1A1A", "baseline": "alphabetic", "dy": 22.5},
    "encoding": {
     "x": {"datum": 30, "type": "quantitative"},
     "y": {"datum": 1.0971, "type": "quantitative"},
     "text": {"field": "panel"}
    }}
  ]}
],
"spacing": 18,
"bounds": "flush",
"resolve": {"scale": {"fill": "shared", "stroke": "shared", "strokeDash": "shared"}, "legend": {"fill": "shared", "stroke": "shared", "strokeDash": "shared"}},
"config": {
 "font": "Liberation Sans",
 "view": {"stroke": "#333333", "strokeWidth": 2.5},
 "axis": {"domain": false, "grid": true, "gridColor": "#EBEBEB", "tickColor": "#333333", "tickSize": 8, "tickWidth": 3,
   "labelColor": "#4D4D4D", "labelFontSize": 62, "titleFontSize": 77, "titleColor": "#000000", "titleFontWeight": "normal",
   "labelFont": "Liberation Sans", "titleFont": "Liberation Sans"},
 "legend": {"padding": 0, "titleFontSize": 52, "titleFontWeight": "normal", "titleColor": "#000000", "labelFontSize": 26, "labelColor": "#000000",
   "rowPadding": 4, "labelOffset": 28, "titlePadding": 22, "titleLimit": 1000, "labelLimit": 1000, "titleFont": "Liberation Sans", "labelFont": "Liberation Sans"}
}
}
